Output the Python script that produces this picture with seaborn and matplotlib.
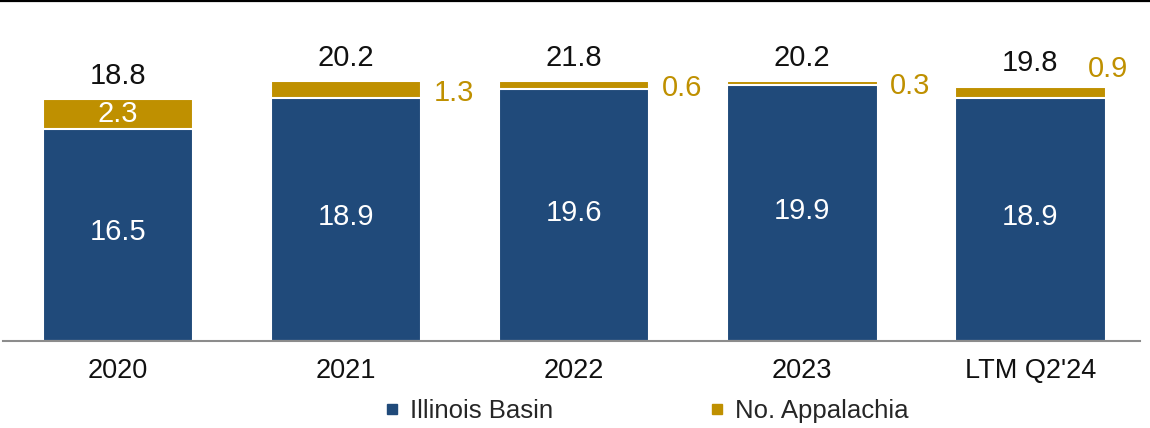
import pandas as pd
import matplotlib.pyplot as plt
import seaborn as sns
from matplotlib.lines import Line2D

# Chart values
periods = ['2020', '2021', '2022', '2023', "LTM Q2'24"]
illinois = [16.5, 18.9, 19.6, 19.9, 18.9]
appalachia = [2.3, 1.3, 0.6, 0.3, 0.9]
total_labels = ['18.8', '20.2', '21.8', '20.2', '19.8']

blue = '#204a7a'
gold = '#bf9000'

df = pd.DataFrame({'Period': periods, 'Illinois Basin': illinois, 'No. Appalachia': appalachia})
df['Top'] = df['Illinois Basin'] + df['No. Appalachia']

sns.set_style('white')
plt.rcParams['font.family'] = ['Liberation Sans', 'DejaVu Sans']

fig = plt.figure(figsize=(11.5, 4.28), dpi=100)
ax = fig.add_axes([0.0026, 0.2033, 0.9885, 0.7733])

# Stacked bars: gold (total) behind, blue in front
sns.barplot(data=df, x='Period', y='Top', color=gold, width=0.66, saturation=1,
            edgecolor='white', linewidth=1.5, ax=ax)
sns.barplot(data=df, x='Period', y='Illinois Basin', color=blue, width=0.66, saturation=1,
            edgecolor='white', linewidth=1.5, ax=ax)

ax.set_ylim(0, 25.76)
ax.set_xlim(-0.505, 4.48)

fs = 21
# Labels
for i, row in df.iterrows():
    ax.text(i, row['Illinois Basin'] / 2 + 0.2, f"{row['Illinois Basin']:.1f}", color='white',
            ha='center', va='center', fontsize=fs)
    ax.annotate(total_labels[i], (i, row['Top']), xytext=(0, 7), textcoords='offset points',
                ha='center', va='bottom', fontsize=fs, color='#111111')
    mid = row['Illinois Basin'] + row['No. Appalachia'] / 2
    val = f"{row['No. Appalachia']:.1f}"
    if i == 0:
        ax.text(i, mid, val, color='white', ha='center', va='center', fontsize=fs)
    elif i == 4:
        ax.annotate(val, (i + 0.33, row['Top']), xytext=(-13, 13), textcoords='offset points',
                    ha='left', va='center', fontsize=fs, color=gold)
    else:
        ax.annotate(val, (i + 0.33, mid), xytext=(9, -2), textcoords='offset points',
                    ha='left', va='center', fontsize=fs, color=gold)

sns.despine(ax=ax, left=True)
ax.spines['bottom'].set_color('#8c8c8c')
ax.spines['bottom'].set_linewidth(1.5)
ax.set_yticks([])
ax.set_xlabel('')
ax.set_ylabel('')
ax.tick_params(axis='x', length=0, pad=12, labelsize=19.5, labelcolor='#111111')

# Legend
handles = [Line2D([], [], marker='s', linestyle='', color=blue, markersize=7),
           Line2D([], [], marker='s', linestyle='', color=gold, markersize=7)]
fig.legend(handles, ['Illinois Basin', 'No. Appalachia'], loc='center', ncol=2,
           bbox_to_anchor=(0.5626, 0.04), frameon=False, fontsize=18.5,
           handlelength=0.5, handletextpad=0.45, columnspacing=6.1, borderpad=0)

# Top rule
fig.add_artist(Line2D([0, 1], [0.9977, 0.9977], color='black', linewidth=1.6,
                      transform=fig.transFigure))

plt.savefig('out.png', dpi=100)
